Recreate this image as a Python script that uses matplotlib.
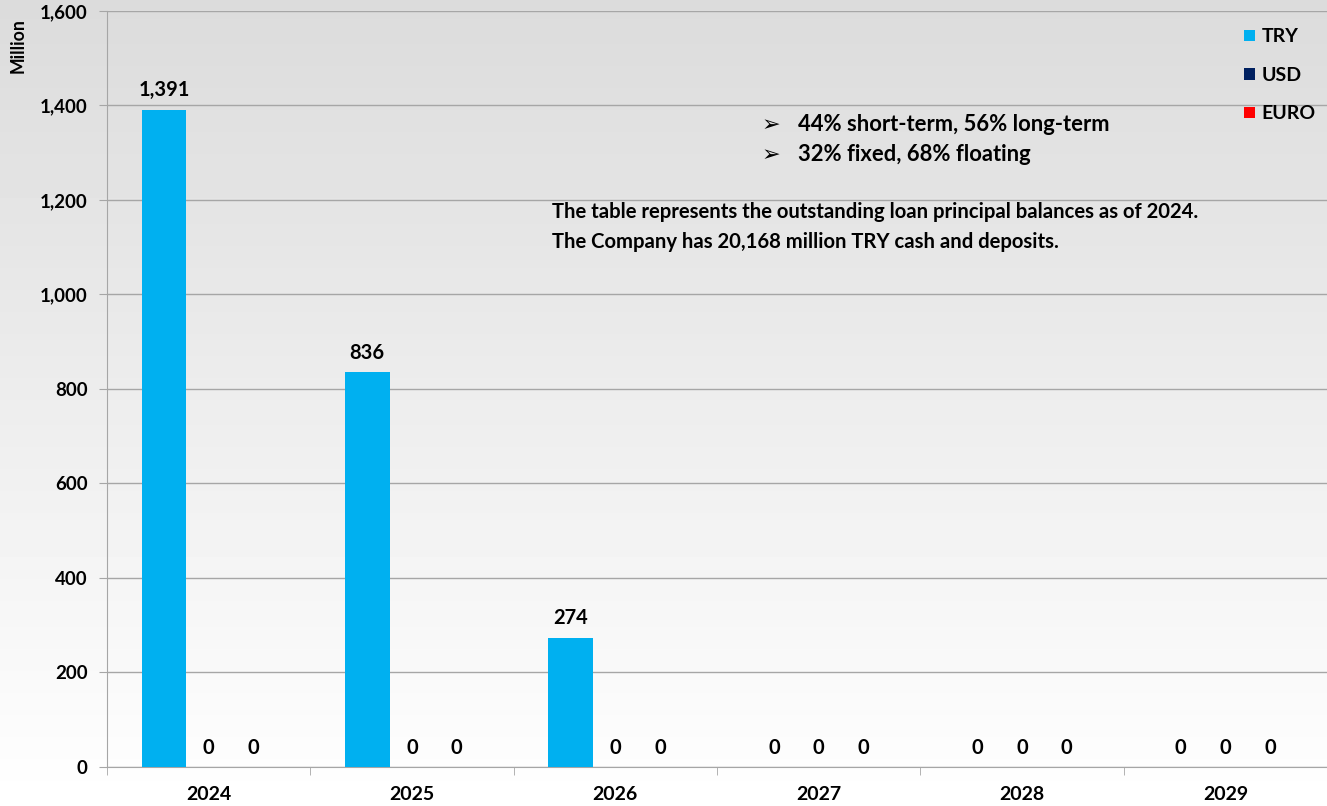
import numpy as np
import matplotlib.pyplot as plt

plt.rcParams['font.family'] = ['Lato', 'DejaVu Sans']
plt.rcParams['font.weight'] = 'bold'

years = ['2024', '2025', '2026', '2027', '2028', '2029']
try_vals = [1391, 836, 274, 0, 0, 0]
usd_vals = [0, 0, 0, 0, 0, 0]
euro_vals = [0, 0, 0, 0, 0, 0]
series = ['TRY', 'USD', 'EURO']
colors = ['#00b0f0', '#002060', '#ff0000']

fig = plt.figure(figsize=(13.27, 8.06), dpi=100)

# gradient background
bg = fig.add_axes([0, 0, 1, 1], zorder=-10)
grad = np.linspace(0.86, 1.0, 256).reshape(-1, 1)
bg.imshow(grad, aspect='auto', cmap='gray', vmin=0, vmax=1, extent=[0, 1, 0, 1], origin='upper')
bg.axis('off')

ax = fig.add_axes([0.0806, 0.0484, 0.9194, 0.938])
ax.set_facecolor('none')

x = np.arange(len(years))
w = 0.22
for i, (vals, c, name) in enumerate(zip([try_vals, usd_vals, euro_vals], colors, series)):
    pos = x + (i - 1) * w
    ax.bar(pos, vals, width=w, color=c, label=name, zorder=3)
    for p, v in zip(pos, vals):
        ax.text(p, v + 20, f'{v:,}', ha='center', va='bottom', fontsize=14.5, fontweight='bold', zorder=4)

ax.set_xlim(-0.5, len(years) - 0.5)
ax.set_ylim(0, 1600)
ax.set_yticks(np.arange(0, 1601, 200))
ax.set_yticklabels([f'{v:,}' for v in range(0, 1601, 200)], fontsize=13.5, fontweight='bold')
ax.yaxis.grid(True, color='#a6a6a6', lw=1)
ax.set_axisbelow(True)
ax.set_xticks(x)
ax.set_xticklabels(years, fontsize=14, fontweight='bold')
ax.tick_params(axis='x', which='major', length=0, pad=14)
ax.set_xticks(np.arange(-0.5, len(years)), minor=True)
ax.tick_params(axis='x', which='minor', length=6, color='#a6a6a6', direction='out')
ax.tick_params(axis='y', length=6, color='#a6a6a6', pad=8)
for s in ['top', 'right']:
    ax.spines[s].set_visible(False)
for s in ['left', 'bottom']:
    ax.spines[s].set_color('#a6a6a6')

fig.text(0.014, 0.944, 'Million', rotation=90, ha='center', va='center', fontsize=12.7, fontweight='bold')

leg = ax.legend(loc='upper right', bbox_to_anchor=(1.005, 1.0), frameon=False, handlelength=0.55,
                handleheight=0.55, handletextpad=0.35, labelspacing=1.1, fontsize=14)

fig.text(0.574, 0.845, '➢', fontsize=16, ha='left', va='center', family=['DejaVu Sans'])
fig.text(0.601, 0.845, '44% short-term, 56% long-term', fontsize=15.8, ha='left', va='center', fontweight='bold')
fig.text(0.574, 0.808, '➢', fontsize=16, ha='left', va='center', family=['DejaVu Sans'])
fig.text(0.601, 0.808, '32% fixed, 68% floating', fontsize=15.8, ha='left', va='center', fontweight='bold')
fig.text(0.416, 0.737, 'The table represents the outstanding loan principal balances as of 2024.',
         fontsize=14.6, ha='left', va='center', fontweight='bold')
fig.text(0.416, 0.700, 'The Company has 20,168 million TRY cash and deposits.',
         fontsize=14.6, ha='left', va='center', fontweight='bold')

fig.savefig('out.png', dpi=100)
